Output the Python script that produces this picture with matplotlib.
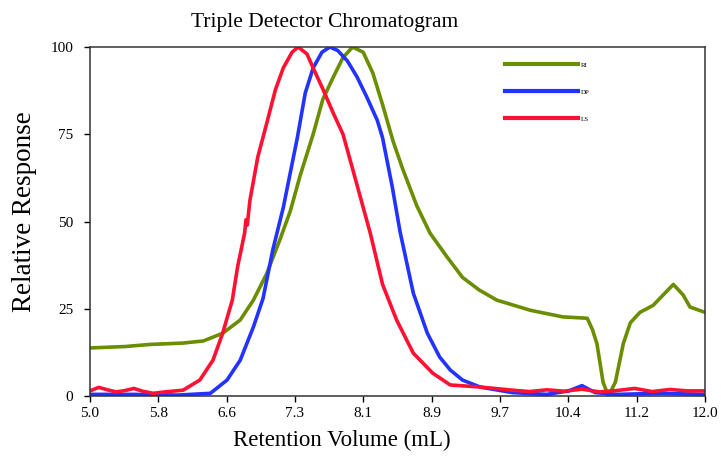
import matplotlib
matplotlib.use("Agg")
import numpy as np
import matplotlib.pyplot as plt

# RI trace (retention volume mL, relative response)
ri_x = [5.0, 5.4, 5.68, 6.06, 6.29, 6.51, 6.71, 6.86, 7.01, 7.16, 7.28, 7.39,
        7.54, 7.65, 7.77, 7.88, 7.99, 8.11, 8.22, 8.33, 8.45, 8.56, 8.72,
        8.87, 9.06, 9.24, 9.43, 9.63, 10.01, 10.38, 10.66, 10.72, 10.77,
        10.84, 10.90, 10.98, 11.07, 11.15, 11.26, 11.41, 11.64, 11.75, 11.83,
        12.0]
ri_y = [13.8, 14.2, 14.8, 15.2, 15.8, 18, 21.8, 27.5, 35, 44.7, 53, 63,
        75, 85, 91.4, 97, 100, 98.5, 92.5, 83.5, 73, 65, 54.5,
        46.7, 40, 34, 30.4, 27.5, 24.6, 22.7, 22.3, 19, 15,
        4, 0, 4, 15, 21, 24, 26, 32, 29, 25.5,
        24]

# DP trace
dp_x = [5.0, 5.5, 6.0, 6.37, 6.56, 6.71, 6.86, 6.97, 7.08, 7.20, 7.28, 7.36,
        7.45, 7.54, 7.64, 7.73, 7.82, 7.93, 8.04, 8.15, 8.27, 8.33, 8.44,
        8.53, 8.68, 8.84, 8.98, 9.10, 9.24, 9.44, 9.81, 10.2, 10.45, 10.6,
        10.75, 11.0, 11.5, 12.0]
dp_y = [0.5, 0.5, 0.3, 0.8, 4.6, 10.3, 19.8, 28, 41.8, 54, 64, 74,
        86.8, 94, 98.5, 100, 99, 96, 91.4, 85.7, 79, 74, 60,
        47, 29.5, 18, 11.2, 7.5, 4.6, 2.6, 1, 0.5, 1.5, 3,
        1, 0.5, 0.8, 0.5]

# LS trace
ls_x = [5.0, 5.1, 5.2, 5.3, 5.4, 5.5, 5.6, 5.72, 5.85, 6.06, 6.25, 6.40,
        6.51, 6.62, 6.68, 6.76, 6.775, 6.79, 6.82, 6.91, 7.01, 7.11, 7.20,
        7.30, 7.37, 7.47, 7.54, 7.65, 7.77, 7.88, 7.99, 8.11, 8.19, 8.33,
        8.49, 8.68, 8.90, 9.10, 9.44, 9.81, 10.0, 10.2, 10.4, 10.6, 10.8,
        11.0, 11.2, 11.4, 11.6, 11.8, 12.0]
ls_y = [1.5, 2.5, 1.8, 1.2, 1.6, 2.2, 1.4, 0.8, 1.2, 1.7, 4.6, 10.3,
        18, 27.5, 37, 46.7, 50.5, 49, 56, 68.5, 78, 87.7, 94,
        98.5, 100, 98, 94, 88, 81, 75, 65, 54, 46.7, 32,
        21.8, 12.3, 6.6, 3.2, 2.6, 1.7, 1.3, 1.8, 1.4, 2.0, 1.2,
        1.6, 2.2, 1.3, 1.9, 1.5, 1.5]

x_ticks = np.linspace(5.0, 12.0, 10)
x_tick_labels = [f"{v:.1f}" for v in x_ticks]
y_ticks = [0, 25, 50, 75, 100]

plt.rcParams['font.family'] = ['Liberation Serif', 'DejaVu Serif']

fig = plt.figure(figsize=(7.21, 4.59), dpi=100)
ax = fig.add_axes([0.1248, 0.137, 0.853, 0.7606])

ax.plot(ri_x, ri_y, color='#6b8e00', lw=2.6, label='RI', solid_joinstyle='round')
ax.plot(dp_x, dp_y, color='#2233ff', lw=2.6, label='DP', solid_joinstyle='round')
ax.plot(ls_x, ls_y, color='#ff1133', lw=2.6, label='LS', solid_joinstyle='round')

ax.set_xlim(5.0, 12.0)
ax.set_ylim(0, 100)
ax.set_xticks(x_ticks)
ax.set_xticklabels(x_tick_labels)
ax.set_yticks(y_ticks)
ax.tick_params(direction='out', length=4, width=1, labelsize=11)
ax.tick_params(axis='y', pad=8)
ax.tick_params(axis='x', pad=4)
for spine in ax.spines.values():
    spine.set_linewidth(1.1)
    spine.set_color('#333333')

leg = ax.legend(loc='upper left', bbox_to_anchor=(0.665, 0.975), frameon=False,
                fontsize=5, handlelength=10.5, labelspacing=3.05, handletextpad=0.4)
for line in leg.get_lines():
    line.set_linewidth(3)

fig.text(0.45, 0.952, 'Triple Detector Chromatogram', ha='center', va='center', fontsize=15.5)
fig.text(0.474, 0.041, 'Retention Volume (mL)', ha='center', va='center', fontsize=16.5)
fig.text(0.034, 0.538, 'Relative Response', ha='center', va='center', rotation=90, fontsize=19.5)

fig.savefig('out.png', dpi=100)
